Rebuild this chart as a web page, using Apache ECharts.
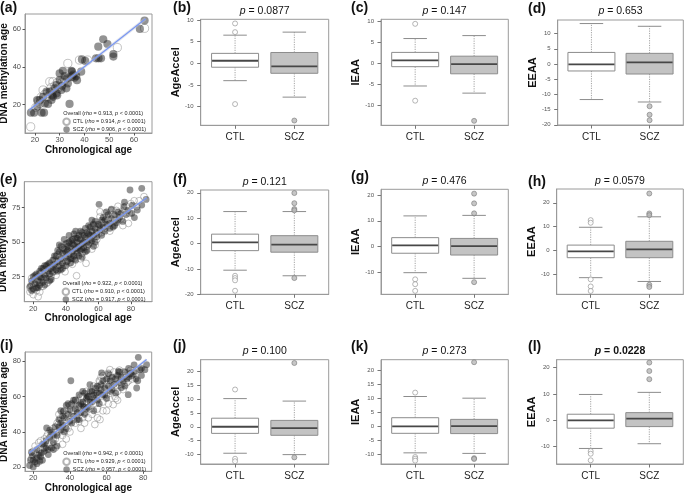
<!DOCTYPE html>
<html><head><meta charset="utf-8">
<script src="https://cdn.jsdelivr.net/npm/echarts@6/dist/echarts.min.js"></script>
<style>html,body{margin:0;padding:0;background:#fff}#c{width:685px;height:493px}</style>
</head><body><div id="c"></div>
<script>
// ---------------- DATA ----------------
const groups = ['CTL', 'SCZ'];

// Scatter panel (a)
const a_ctl = [[18.3,8.3],[20.4,18.6],[22,20.7],[23.3,27.8],[24.7,24.2],[26,32.2],[27.3,32.2],[29.3,28.7],[30.5,29.5],[33.3,41.9],[38,43.7],[41.3,43.7],[53.3,50.3],[64.3,60.5],[21.5,22],[25,26],[28,30],[31,32],[26.5,29],[24,25.5],[32,33],[35,35],[29,31.5],[22.5,24],[27,27]];
const a_scz = [[18.4,15.8],[19.7,15.8],[22.7,15.8],[23.7,15.8],[20.9,22.5],[22,22.5],[24,20.7],[25.3,20.4],[26.7,22.5],[27.3,24.2],[23.3,24.2],[24.7,26.9],[28,28.7],[28.7,26],[28.7,30.4],[30,33.1],[30,36.6],[30.7,27.8],[31.3,38],[32,35.2],[32.7,28.7],[33.3,31.3],[34,20.4],[34.7,38],[34.9,34.9],[36,34.3],[36.7,35.2],[38.7,37.5],[40.3,43.2],[44.7,44.6],[45.7,44.6],[46.7,44.6],[45.6,50.8],[47.6,54.7],[49.3,52.2],[51.7,46.9],[51.7,45.5],[62.4,60.2],[64.3,64.6],[33,34],[35.5,36],[37,33],[29,25],[26,27],[21,19],[31,30],[27,25],[35,37.5],[39,44]];
const a_fit = [[17.7,17.2],[64.7,65.6]];
const a_xticks = [20,30,40,50,60], a_yticks = [20,40,60];

// Scatter panel (e)
const e_ctl = [[18,14],[19,19],[20,12],[21,23],[22,15],[23,10.5],[23,25],[24,21],[25,18],[25,28],[26,24],[27,30],[28,20],[29,27],[30,31],[31,25],[32,33],[33,29],[34,36],[35,32],[36,39],[37,34],[38,41],[39,37],[39.5,28.6],[40,44],[41,40],[42,35],[43,43],[44,47],[45,38],[46,44],[46.6,25.7],[47,51],[48,45],[49,49],[50,42],[51,52],[52.4,34.7],[53,47],[54,55],[55,50],[56,61],[57,53],[58.9,58.8],[59,52],[61,68.5],[62,57],[63,64],[64,60],[65,69],[66,62],[68,73],[70,66],[72,76],[74,67],[76,73],[78.4,63.6],[80,78],[83.5,75.7],[85,80],
  [18,17],[19,24],[20,20],[21,16],[22,21],[24,14],[24,27],[26,18],[27,23],[28,28],[30,23],[31,35],[33,37],[34,26],[36,31],[38,46],[40,36],[41,49],[43,40],[44,34],[45,52],[47,41],[48,53],[50,55],[51,45],[53,54],[55,57],[57,62],[58,48],[60,56],[62,64],[64,71],[66,66],[67,58],[69,70],[71,73],[73,70],[75,62],[77,76],[79,71],[82,80],[88,83],[20,17],[25,21],[29,21],[35,41],[42,45],[49,38],[56,45],[61,72]];
const e_scz = [[18,18],[19,22],[20,16],[20,25],[21,20],[22,17],[22,27],[23,22],[24,19],[24,29],[25,24],[26,21],[26,31],[27,26],[28,24],[28,33],[29,29],[30,27],[30,35],[31,31],[32,37],[32,28],[33,34],[34,40],[34,30],[35,36],[36,43],[36,33],[37,47],[37,38],[38,35],[38,42],[39,45],[40,39],[40,49],[41,36],[41,44],[42,41],[42,50],[43,38],[43,46],[44,43],[44,52],[45,40],[45,48],[46,45],[46,53],[47,42],[47,50],[48,47],[48,55],[49,44],[49,52],[50,49],[50,57],[51,46],[52,53],[52,60],[53,50],[54,56],[54,62],[55,52],[56,58],[57,55],[57,63],[58,60],[59,57],[60,63],[60.4,77.4],[61,59],[62,66],[63,61],[64,66],[65,63],[66,70],[67,63.6],[68,67],[69,61],[70,70],[71,64],[72,66],[74,71],[75.7,75.7],[77,70],[79.4,87.8],[80.5,70.9],[80.9,76.9],[82.1,67.8],[83.9,73.3],[86.6,89],[86.6,76.9],[89.3,81],
  [19,15],[21,26],[23,17],[25,31],[27,19],[29,34],[31,23],[33,40],[35,29],[36,48],[38,31],[39,52],[40,33],[41,47],[42,55],[43,35],[44,49],[45,56],[46,37],[47,46],[48,40],[49,58],[50,45],[51,55],[52,43],[53,57],[54,48],[55,61],[56,51],[57,47],[58,65],[59,54],[61,62],[62,55],[63,68],[64,58],[65,72],[67,60],[68,74],[70,62],[72,72],[73,68],[75,65],[76,79],[78,73],[35,44],[37,30],[44,38],[46,58],[50,39],[53,44],[56,66],[58,50],[32,32],[30,22],[27,33],[24,25],[40,43],[43,51],[47,53],[51,50],[55,55]];
const e_fit = [[17.5,21.4],[89.7,82.2]];
const e_xticks = [20,40,60,80], e_yticks = [25,50,75];

// Scatter panel (i)
const i_ctl = [[19,25],[20,29],[21,32],[22,27],[23,34],[24,30],[25.5,30.9],[26,36],[27.3,37.5],[28,33],[29.1,31.9],[30,38],[31,42],[32,36],[33,45],[33.6,44.2],[34,40],[35,48],[36,38],[37.3,43.2],[38,50],[39,46],[40,55],[41,49],[42,52],[43,45],[44,57],[44.5,54.5],[45,51],[46,60],[47,48],[48,56],[49,63],[50,58.3],[51,53],[52,60],[53,66],[53.6,44.2],[54,56],[55,62],[56,69],[56.4,47],[56.4,68.7],[57,60],[58,72],[59,64],[60,67],[60.9,73.4],[61.8,75.3],[62,62],[63,70],[63.6,55.5],[64,74],[64.5,60.2],[65,66],[66,63],[67,75],[68,70],[69,64],[70,72],[72,69],[73,75],[75,73],[46,42],[50,48],[58,52],[61,56],[66,58],[40,40],[36,33],
  [21,28],[23,30],[24,35],[26,31],[28,39],[30,34],[31,36],[33,40],[34,50],[36,46],[37,52],[39,42],[41,52],[42,47],[43,58],[45,46],[47,60],[48,51],[49,56],[51,60],[52,50],[54,64],[55,53],[57,71],[58,57],[59,69],[60,61],[62,72],[64,65],[65,59],[66,70],[68,67],[69,74],[71,68],[73,73],[74,70],[76,75],[60,52],[55,48],[48,45],[38,36],[32,31]];
const i_scz = [[18,21],[18.5,24],[19,28.5],[19.5,26.6],[20,20.2],[21,23],[21.8,25.3],[22,30],[23,27],[23.6,23.4],[24.5,28.1],[25,33],[26,29],[27,35],[27.3,42.3],[28.2,27.2],[29,37],[30,30.9],[30,40],[31,34],[32,43],[33,38],[34,47],[35,41],[35,52],[36,44],[36.4,51.7],[37,48],[38,55],[38,42],[39,50],[40,52.6],[40,46],[40.5,69],[41,56],[42,49],[43,53],[43,58],[44,47],[45,55],[45,61],[46,51],[47,57],[47.3,54.5],[48,62],[48,50],[49,59],[49.5,60.2],[50,54],[50.9,66.8],[51,57],[52,63],[53,59],[53,52],[54,65],[54.5,62.1],[55,58],[56,62],[57,67],[57.3,73.4],[58,61],[59,65],[60,70],[60,59],[61,66],[62,63],[63,71],[64,67],[65,62],[66,72],[66.4,74.3],[67,68],[68,71],[69.1,68.7],[70,74],[71,70],[71.8,61.1],[72,76],[74,72],[75,78],[76,70],[76.4,64.9],[77.3,82.3],[78.2,75.3],[79,72],[80.9,75.3],[81.8,78.1],
  [20,24],[22,22],[24,26],[25,24],[26,33],[28,30],[29,41],[31,38],[33,32],[34,43],[36,49],[37,40],[39,56],[41,45],[42,58],[44,51],[46,56],[47,63],[48,54],[50,60],[51,63],[52,57],[55,66],[56,56],[58,69],[59,61],[61,73],[62,69],[63,64],[65,70],[67,74],[68,65],[70,66],[72,71],[73,73],[75,74],[77,69],[79,76],[45,47],[49,53],[53,61],[57,64],[35,45],[31,30],[27,31]];
const i_fit = [[17.8,28.1],[81.8,81]];
const i_xticks = [20,40,60,80], i_yticks = [20,40,60,80];

const legendA = ['Overall (rho = 0.913, p < 0.0001)', 'CTL (rho = 0.914, p < 0.0001)', 'SCZ (rho = 0.906, p < 0.0001)'];
const legendE = ['Overall (rho = 0.922, p < 0.0001)', 'CTL (rho = 0.910, p < 0.0001)', 'SCZ (rho = 0.917, p < 0.0001)'];
const legendI = ['Overall (rho = 0.942, p < 0.0001)', 'CTL (rho = 0.929, p < 0.0001)', 'SCZ (rho = 0.957, p < 0.0001)'];

// Box panels: whisker-low, Q1, median, Q3, whisker-high
const b_ctl = [-4.0,-0.9,0.6,2.3,6.5],  b_scz = [-7.8,-2.3,-0.7,2.5,7.2];
const b_out_ctl = [9.2,7.2,-9.4],        b_out_scz = [-13.2];
const c_ctl = [-5.4,-0.8,0.7,2.6,5.9],  c_scz = [-7.1,-2.5,-0.2,1.7,6.6];
const c_out_ctl = [9.4,-8.9],            c_out_scz = [-13.7];
const d_ctl = [-11.7,-2.3,-0.1,3.8,13.3], d_scz = [-12.5,-3.3,0.5,3.5,12.4];
const d_out_ctl = [],                    d_out_scz = [-13.9,-16.7,-18.5];
const f_ctl = [-10.5,-2.8,0.5,3.7,12.6], f_scz = [-12.7,-3.4,-0.4,3.1,12.6];
const f_out_ctl = [-12.7,-13.6,-14.5,-18.6], f_out_scz = [19.9,15.9,13.6,13.1,-13.6];
const g_ctl = [-10.3,-2.7,0.4,3.4,11.9], g_scz = [-12.5,-3.4,0.1,3.1,12.1];
const g_out_ctl = [-12.9,-14.8,-17.4],   g_out_scz = [20.6,16.8,12.9,-14];
const h_ctl = [-11.5,-3.1,-0.4,2.2,9.7], h_scz = [-13.1,-3.1,0.4,3.8,14.1];
const h_out_ctl = [12.7,11.6,-12.2,-15.2,-17.1], h_out_scz = [23.9,15.5,14.8,-14.5,-15.4];
const j_ctl = [-9.6,-2.4,0.0,3.1,10.2],  j_scz = [-10.1,-3.1,-0.5,2.3,9.3];
const j_out_ctl = [13.5,-11.6,-12.5],    j_out_scz = [23.1,-11.1];
const k_ctl = [-9.5,-2.5,0.0,3.1,10.7],  k_scz = [-9.7,-2.6,0.1,2.5,10.1];
const k_out_ctl = [12.1,-11,-11.6,-12.3], k_out_scz = [23,-11.4,-11.7];
const l_ctl = [-10.7,-3.0,0.0,2.3,9.8],  l_scz = [-8.9,-2.4,0.6,2.9,10.6];
const l_out_ctl = [-11.7,-12.7,-15.2],   l_out_scz = [21.9,18.7,15.6];

const b_ticks = [-10,-5,0,5,10], c_ticks = [-10,-5,0,5,10], d_ticks = [-20,-15,-10,-5,0,5,10];
const f_ticks = [-20,-10,0,10,20], g_ticks = [-10,0,10,20], h_ticks = [-10,0,10,20];
const j_ticks = [-10,-5,0,5,10,15,20], k_ticks = [-10,-5,0,5,10,15,20], l_ticks = [-10,0,10,20];

const pvals = {b:'0.0877', c:'0.147', d:'0.653', f:'0.121', g:'0.476', h:'0.0579', j:'0.100', k:'0.273', l:'0.0228'};

// ---------------- LAYOUT ----------------
const FONT = '"Liberation Sans", Arial, Helvetica, sans-serif';
const LEGFS = 5.5;
const scatterPanels = [
  {key:'a', grid:[25,14,127,119],   x:[16,67.3],  y:[5,68.1],   xt:a_xticks, yt:a_yticks, ctl:a_ctl, scz:a_scz, fit:a_fit, leg:legendA, sym:8.2, legY:[113.3,120.7,127.7]},
  {key:'e', grid:[24.3,181.7,127.7,120], x:[14.5,92.9], y:[6.9,93.8], xt:e_xticks, yt:e_yticks, ctl:e_ctl, scz:e_scz, fit:e_fit, leg:legendE, sym:6.8, legY:[283.3,290.7,297.7]},
  {key:'i', grid:[25,352,126.7,119.3], x:[15.5,84.6], y:[17.7,85.3], xt:i_xticks, yt:i_yticks, ctl:i_ctl, scz:i_scz, fit:i_fit, leg:legendI, sym:6.8, legY:[454,460.7,467.3]}
];
const boxPanels = [
  {key:'b', grid:[200.7,19.3,128,106],   y:[-14.3,10.16], t:b_ticks, ctl:b_ctl, scz:b_scz, oc:b_out_ctl, os:b_out_scz, name:'AgeAccel', ty:10.7},
  {key:'c', grid:[381,19.3,127.3,106],   y:[-14.76,10.48], t:c_ticks, ctl:c_ctl, scz:c_scz, oc:c_out_ctl, os:c_out_scz, name:'IEAA', ty:10.7},
  {key:'d', grid:[557.7,20,125.6,105],   y:[-20.07,14.47], t:d_ticks, ctl:d_ctl, scz:d_scz, oc:d_out_ctl, os:d_out_scz, name:'EEAA', ty:10.7},
  {key:'f', grid:[200.7,190,128,104.3],  y:[-20,21.1],    t:f_ticks, ctl:f_ctl, scz:f_scz, oc:f_out_ctl, os:f_out_scz, name:'AgeAccel', ty:181.7},
  {key:'g', grid:[381,189.3,127.3,105],  y:[-18.75,22.3], t:g_ticks, ctl:g_ctl, scz:g_scz, oc:g_out_ctl, os:g_out_scz, name:'IEAA', ty:180.7},
  {key:'h', grid:[556.7,189,126.6,105.3],y:[-18.5,25.8],  t:h_ticks, ctl:h_ctl, scz:h_scz, oc:h_out_ctl, os:h_out_scz, name:'EEAA', ty:180.7},
  {key:'j', grid:[200.7,359.7,128,104.3],y:[-13.5,24.3],  t:j_ticks, ctl:j_ctl, scz:j_scz, oc:j_out_ctl, os:j_out_scz, name:'AgeAccel', ty:350.7},
  {key:'k', grid:[381,359.7,127.3,104.3],y:[-13.5,23.9],  t:k_ticks, ctl:k_ctl, scz:k_scz, oc:k_out_ctl, os:k_out_scz, name:'IEAA', ty:350.7},
  {key:'l', grid:[556.7,359.7,126.6,104.3],y:[-16.6,23.0],t:l_ticks, ctl:l_ctl, scz:l_scz, oc:l_out_ctl, os:l_out_scz, name:'EEAA', ty:350.7, bold:true}
];
const letters = [
  ['(a)',0,8],['(b)',173,8.5],['(c)',351,8],['(d)',528,9.5],
  ['(e)',0,180.5],['(f)',173,180],['(g)',351,177.5],['(h)',528,182],
  ['(i)',0,346.5],['(j)',173,346.5],['(k)',351,347],['(l)',528,347.5]
];

const grids = [], xAxes = [], yAxes = [], series = [], graphics = [], legends = [];
const FRAME = '#9a9a9a';

function addGrid(g){
  grids.push({left:g[0], top:g[1], width:g[2], height:g[3], show:true, borderColor:FRAME, borderWidth:1, backgroundColor:'#fff', containLabel:false, outerBoundsMode:'none'});
  return grids.length - 1;
}

scatterPanels.forEach(p => {
  const gi = addGrid(p.grid);
  xAxes.push({gridIndex:gi, type:'value', min:p.x[0], max:p.x[1], splitLine:{show:false},
    axisLine:{show:true, onZero:false, lineStyle:{color:FRAME}},
    axisTick:{show:true, customValues:p.xt, length:2.5, lineStyle:{color:'#555'}},
    axisLabel:{customValues:p.xt, fontSize:7.5, color:'#4d4d4d', margin:3, fontFamily:FONT},
    name:'Chronological age', nameLocation:'middle', nameGap:10.5,
    nameTextStyle:{fontSize:10, fontWeight:'bold', color:'#111', fontFamily:FONT}});
  yAxes.push({gridIndex:gi, type:'value', min:p.y[0], max:p.y[1], splitLine:{show:false},
    axisLine:{show:true, onZero:false, lineStyle:{color:FRAME}},
    axisTick:{show:true, customValues:p.yt, length:2.5, lineStyle:{color:'#555'}},
    axisLabel:{customValues:p.yt, fontSize:7.5, color:'#4d4d4d', margin:4, fontFamily:FONT},
    name:'DNA methylation age', nameLocation:'middle', nameGap:14.5,
    nameTextStyle:{fontSize:10, fontWeight:'bold', color:'#111', fontFamily:FONT}});
  series.push({type:'scatter', name:p.leg[1], xAxisIndex:gi, yAxisIndex:gi, data:p.ctl, symbolSize:p.sym,
    itemStyle:{color:'rgba(255,255,255,0.25)', borderColor:'rgba(120,120,120,0.7)', borderWidth:0.8}, silent:true, z:2});
  series.push({type:'scatter', name:p.leg[2], xAxisIndex:gi, yAxisIndex:gi, data:p.scz, symbolSize:p.sym,
    itemStyle:{color:'rgba(30,30,30,0.6)', borderWidth:0}, silent:true, z:3});
  series.push({type:'line', xAxisIndex:gi, yAxisIndex:gi, data:p.fit, showSymbol:false, silent:true, z:4,
    lineStyle:{color:'rgba(195,200,215,0.45)', width:3}});
  series.push({type:'line', xAxisIndex:gi, yAxisIndex:gi, data:p.fit, showSymbol:false, silent:true, z:5,
    lineStyle:{color:'#7896f2', width:1.2}});
  // legend
  graphics.push({type:'text', left:p.grid[0]+38.3, top:p.legY[0]-3.3, z:100,
    style:{text:p.leg[0].replace('rho','{i|rho}').replace(', p',', {i|p}'), fontSize:LEGFS, fill:'#222', fontFamily:FONT,
      rich:{i:{fontStyle:'italic', fontSize:LEGFS, fontFamily:FONT}}}});
  legends.push({data:[p.leg[1], p.leg[2]], orient:'vertical', left:p.grid[0]+37.3, top:p.legY[1]-3.3, itemGap:0.4, itemWidth:6.5, itemHeight:6.5, padding:0,
    textStyle:{fontSize:LEGFS, color:'#222', fontFamily:FONT, padding:[0,0,0,-2], rich:{i:{fontStyle:'italic', fontSize:LEGFS, fontFamily:FONT}}},
    formatter: n => n.replace('rho','{i|rho}').replace(', p',', {i|p}'), selectedMode:false});
});

function renderBox(params, api){
  const x = api.value(0);
  const pMin = api.coord([x, api.value(1)]);
  const yQ1 = api.coord([x, api.value(2)])[1];
  const yMed = api.coord([x, api.value(3)])[1];
  const yQ3 = api.coord([x, api.value(4)])[1];
  const yMax = api.coord([x, api.value(5)])[1];
  const px = pMin[0], yMin = pMin[1];
  const fill = api.value(0) === 2 ? '#c3c3c3' : '#ffffff';
  const bw = 47, cw = 23.5;
  const wl = {stroke:'#8c8c8c', lineWidth:0.8, lineDash:[1.2,1.2]};
  const cl = {stroke:'#8c8c8c', lineWidth:1};
  return {type:'group', children:[
    {type:'line', shape:{x1:px, y1:yQ3, x2:px, y2:yMax}, style:wl},
    {type:'line', shape:{x1:px, y1:yQ1, x2:px, y2:yMin}, style:wl},
    {type:'line', shape:{x1:px-cw/2, y1:yMax, x2:px+cw/2, y2:yMax}, style:cl},
    {type:'line', shape:{x1:px-cw/2, y1:yMin, x2:px+cw/2, y2:yMin}, style:cl},
    {type:'rect', shape:{x:px-bw/2, y:yQ3, width:bw, height:yQ1-yQ3}, style:{fill:fill, stroke:'#8c8c8c', lineWidth:1}},
    {type:'line', shape:{x1:px-bw/2+0.5, y1:yMed, x2:px+bw/2-0.5, y2:yMed}, style:{stroke:'#474747', lineWidth:1.8}}
  ]};
}

boxPanels.forEach(p => {
  const gi = addGrid(p.grid);
  xAxes.push({gridIndex:gi, type:'value', min:0.42, max:2.58, splitLine:{show:false},
    axisLine:{show:true, onZero:false, lineStyle:{color:FRAME}},
    axisTick:{show:true, customValues:[1,2], length:3.5, lineStyle:{color:'#777'}},
    axisLabel:{customValues:[1,2], formatter:v => groups[Math.round(v)-1], fontSize:10, color:'#222', margin:7, fontFamily:FONT}});
  yAxes.push({gridIndex:gi, type:'value', min:p.y[0], max:p.y[1], splitLine:{show:false},
    axisLine:{show:true, onZero:false, lineStyle:{color:FRAME}},
    axisTick:{show:true, customValues:p.t, length:3.5, lineStyle:{color:'#777'}},
    axisLabel:{customValues:p.t, fontSize:6, color:'#555', margin:7, fontFamily:FONT},
    name:p.name, nameLocation:'middle', nameGap:18,
    nameTextStyle:{fontSize:11, fontWeight:'bold', color:'#111', fontFamily:FONT}});
  series.push({type:'custom', xAxisIndex:gi, yAxisIndex:gi, renderItem:renderBox, silent:true, z:2,
    encode:{x:0, y:[1,2,3,4,5]},
    data:[[1].concat(p.ctl), [2].concat(p.scz)]});
  series.push({type:'scatter', xAxisIndex:gi, yAxisIndex:gi, silent:true, z:3, symbolSize:5,
    data:p.oc.map(v => [1, v]), itemStyle:{color:'#fff', borderColor:'#8c8c8c', borderWidth:0.8}});
  series.push({type:'scatter', xAxisIndex:gi, yAxisIndex:gi, silent:true, z:3, symbolSize:5,
    data:p.os.map(v => [2, v]), itemStyle:{color:'#b8b8b8', borderColor:'#7a7a7a', borderWidth:0.8}});
  graphics.push({type:'text', x:p.grid[0]+p.grid[2]/2, y:p.ty, z:100,
    style:{text:'{i|p} = ' + pvals[p.key], align:'center', verticalAlign:'middle', fontSize:10.5, fill:'#111',
      fontWeight:p.bold ? 'bold' : 'normal', fontFamily:FONT,
      rich:{i:{fontStyle:'italic', fontSize:10.5, fontWeight:p.bold ? 'bold' : 'normal', fontFamily:FONT}}}});
});

letters.forEach(l => {
  graphics.push({type:'text', x:l[1], y:l[2], z:100,
    style:{text:l[0], fontSize:14, fontWeight:'bold', fill:'#111', fontFamily:FONT, align:'left', verticalAlign:'middle'}});
});

const chart = echarts.init(document.getElementById('c'), null, {renderer:'canvas'});
chart.setOption({
  animation:false,
  backgroundColor:'#fff',
  grid:grids, xAxis:xAxes, yAxis:yAxes, series:series, legend:legends,
  graphic:graphics
});
</script>
</body></html>
